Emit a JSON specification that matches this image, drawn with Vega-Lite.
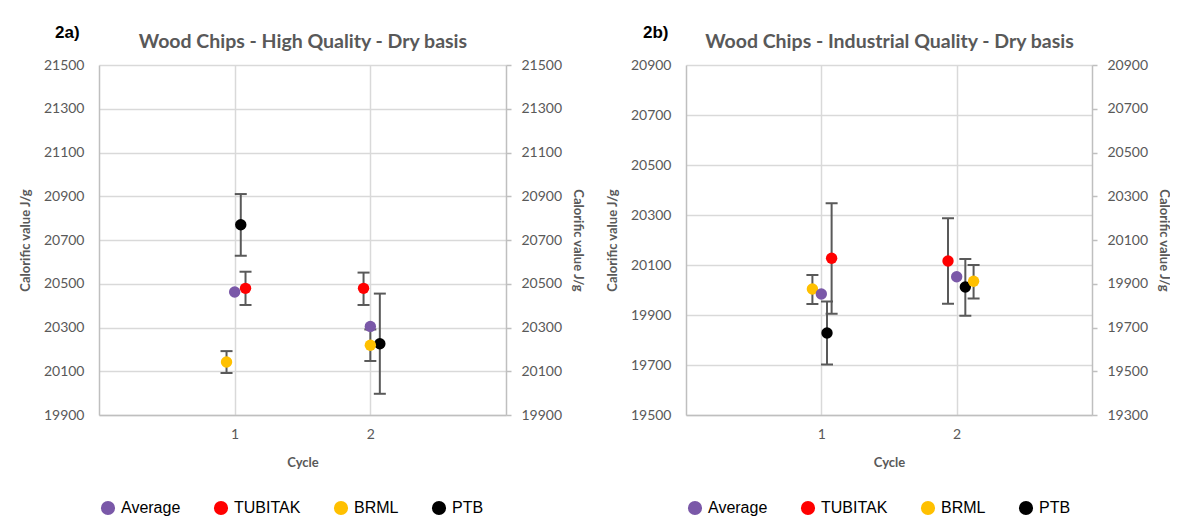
{
  "$schema": "https://vega.github.io/schema/vega-lite/v6.json",
  "background": "white",
  "padding": {"left": 19, "top": 24, "right": 0, "bottom": 0},
  "spacing": 22,
  "datasets": {
    "a": [
      {"series": "PTB", "x": 1.045, "value": 20770, "lo": 20628, "hi": 20910},
      {"series": "PTB", "x": 2.07, "value": 20226, "lo": 19997, "hi": 20455},
      {"series": "BRML", "x": 0.94, "value": 20142, "lo": 20092, "hi": 20192},
      {"series": "BRML", "x": 2.0, "value": 20219, "lo": 20147, "hi": 20291},
      {"series": "Average", "x": 1.0, "value": 20462, "lo": null, "hi": null},
      {"series": "Average", "x": 2.0, "value": 20305, "lo": null, "hi": null},
      {"series": "TUBITAK", "x": 1.08, "value": 20479, "lo": 20403, "hi": 20555},
      {"series": "TUBITAK", "x": 1.95, "value": 20479, "lo": 20403, "hi": 20551}
    ],
    "b": [
      {"series": "PTB", "x": 1.042, "value": 19828, "lo": 19702, "hi": 19954},
      {"series": "PTB", "x": 2.064, "value": 20012, "lo": 19897, "hi": 20124},
      {"series": "BRML", "x": 0.934, "value": 20004, "lo": 19944, "hi": 20060},
      {"series": "BRML", "x": 2.125, "value": 20035, "lo": 19966, "hi": 20100},
      {"series": "Average", "x": 1.0, "value": 19984, "lo": null, "hi": null},
      {"series": "Average", "x": 2.0, "value": 20053, "lo": null, "hi": null},
      {"series": "TUBITAK", "x": 1.076, "value": 20127, "lo": 19905, "hi": 20347},
      {"series": "TUBITAK", "x": 1.936, "value": 20116, "lo": 19945, "hi": 20287}
    ]
  },
  "config": {
    "view": {"stroke": null},
    "axis": {
      "labelFont": "Lato", "labelFontSize": 14, "labelColor": "#595959",
      "titleFont": "Lato", "titleFontSize": 13, "titleColor": "#595959", "titleFontWeight": "bold",
      "gridColor": "#D9D9D9", "gridWidth": 1.5,
      "domainColor": "#BFBFBF", "domainWidth": 1.5,
      "ticks": false, "tickSize": 0
    },
    "legend": {
      "direction": "horizontal", "title": null,
      "symbolType": "circle", "symbolSize": 200, "symbolStrokeWidth": 0, "symbolOpacity": 1,
      "labelFont": "Liberation Sans", "labelFontSize": 16, "labelColor": "#000000",
      "labelOffset": 5, "columnPadding": 32, "padding": 0
    },
    "title": {"font": "Liberation Sans", "fontSize": 17, "fontWeight": "bold", "color": "#000000", "anchor": "start", "frame": "group"}
  },
  "resolve": {
    "scale": {"color": "independent", "x": "independent", "y": "independent"},
    "legend": {"color": "independent"}
  },
  "hconcat": [
    {
      "width": 407, "height": 350,
      "title": {"text": "2a)", "dx": -44, "offset": -11},
      "data": {"name": "a"},
      "layer": [
        {
          "mark": {"type": "rule", "color": "#595959", "strokeWidth": 2},
          "encoding": {
            "x": {"field": "x", "type": "quantitative", "scale": {"domain": [0, 3], "nice": false, "zero": false}, "axis": null},
            "y": {"field": "lo", "type": "quantitative", "scale": {"domain": [19900, 21500], "nice": false, "zero": false}, "axis": null},
            "y2": {"field": "hi"}
          }
        },
        {
          "mark": {"type": "tick", "orient": "horizontal", "color": "#595959", "thickness": 2, "size": 12, "opacity": 1},
          "encoding": {
            "x": {"field": "x", "type": "quantitative", "scale": {"domain": [0, 3], "nice": false, "zero": false}, "axis": null},
            "y": {"field": "lo", "type": "quantitative", "scale": {"domain": [19900, 21500], "nice": false, "zero": false}, "axis": null}
          }
        },
        {
          "mark": {"type": "tick", "orient": "horizontal", "color": "#595959", "thickness": 2, "size": 12, "opacity": 1},
          "encoding": {
            "x": {"field": "x", "type": "quantitative", "scale": {"domain": [0, 3], "nice": false, "zero": false}, "axis": null},
            "y": {"field": "hi", "type": "quantitative", "scale": {"domain": [19900, 21500], "nice": false, "zero": false}, "axis": null}
          }
        },
        {
          "mark": {"type": "circle", "size": 130, "opacity": 1},
          "encoding": {
            "x": {"field": "x", "type": "quantitative", "scale": {"domain": [0, 3], "nice": false, "zero": false},
              "axis": {"orient": "bottom", "values": [1, 2], "grid": true, "title": "Cycle", "labelPadding": 12, "titlePadding": 15, "format": "d"}},
            "y": {"field": "value", "type": "quantitative", "scale": {"domain": [19900, 21500], "nice": false, "zero": false},
              "axis": {"orient": "left", "values": [19900, 20100, 20300, 20500, 20700, 20900, 21100, 21300, 21500], "grid": true, "format": "d",
                "title": "Calorific value J/g", "labelPadding": 15, "titlePadding": 11}},
            "color": {"field": "series", "type": "nominal",
              "scale": {"domain": ["Average", "TUBITAK", "BRML", "PTB"], "range": ["#7A58A8", "#FF0000", "#FFC000", "#000000"]},
              "legend": {"orient": "none", "legendX": 1, "legendY": 435}}
          }
        },
        {
          "mark": {"type": "point", "opacity": 0},
          "encoding": {
            "x": {"field": "x", "type": "quantitative", "scale": {"domain": [0, 3], "nice": false, "zero": false},
              "axis": {"orient": "top", "labels": false, "domain": false, "grid": false, "title": "Wood Chips - High Quality - Dry basis",
                "titleFontSize": 19.5, "titlePadding": 14}},
            "y": {"field": "value", "type": "quantitative", "scale": {"domain": [19900, 21500], "nice": false, "zero": false},
              "axis": {"orient": "right", "values": [19900, 20100, 20300, 20500, 20700, 20900, 21100, 21300, 21500], "grid": false, "format": "d",
                "ticks": true, "tickSize": 5, "tickColor": "#BFBFBF", "tickWidth": 1.5,
                "title": "Calorific value J/g", "labelPadding": 10, "titlePadding": 9}}
          }
        }
      ],
      "resolve": {"scale": {"x": "independent", "y": "independent"}}
    },
    {
      "width": 406, "height": 350,
      "title": {"text": "2b)", "dx": -43, "offset": -11},
      "data": {"name": "b"},
      "layer": [
        {
          "mark": {"type": "rule", "color": "#595959", "strokeWidth": 2},
          "encoding": {
            "x": {"field": "x", "type": "quantitative", "scale": {"domain": [0, 3], "nice": false, "zero": false}, "axis": null},
            "y": {"field": "lo", "type": "quantitative", "scale": {"domain": [19500, 20900], "nice": false, "zero": false}, "axis": null},
            "y2": {"field": "hi"}
          }
        },
        {
          "mark": {"type": "tick", "orient": "horizontal", "color": "#595959", "thickness": 2, "size": 12, "opacity": 1},
          "encoding": {
            "x": {"field": "x", "type": "quantitative", "scale": {"domain": [0, 3], "nice": false, "zero": false}, "axis": null},
            "y": {"field": "lo", "type": "quantitative", "scale": {"domain": [19500, 20900], "nice": false, "zero": false}, "axis": null}
          }
        },
        {
          "mark": {"type": "tick", "orient": "horizontal", "color": "#595959", "thickness": 2, "size": 12, "opacity": 1},
          "encoding": {
            "x": {"field": "x", "type": "quantitative", "scale": {"domain": [0, 3], "nice": false, "zero": false}, "axis": null},
            "y": {"field": "hi", "type": "quantitative", "scale": {"domain": [19500, 20900], "nice": false, "zero": false}, "axis": null}
          }
        },
        {
          "mark": {"type": "circle", "size": 130, "opacity": 1},
          "encoding": {
            "x": {"field": "x", "type": "quantitative", "scale": {"domain": [0, 3], "nice": false, "zero": false},
              "axis": {"orient": "bottom", "values": [1, 2], "grid": true, "title": "Cycle", "labelPadding": 12, "titlePadding": 15, "format": "d"}},
            "y": {"field": "value", "type": "quantitative", "scale": {"domain": [19500, 20900], "nice": false, "zero": false},
              "axis": {"orient": "left", "values": [19500, 19700, 19900, 20100, 20300, 20500, 20700, 20900], "grid": true, "format": "d",
                "title": "Calorific value J/g", "labelPadding": 15, "titlePadding": 11}},
            "color": {"field": "series", "type": "nominal",
              "scale": {"domain": ["Average", "TUBITAK", "BRML", "PTB"], "range": ["#7A58A8", "#FF0000", "#FFC000", "#000000"]},
              "legend": {"orient": "none", "legendX": 1, "legendY": 435}}
          }
        },
        {
          "mark": {"type": "point", "opacity": 0},
          "encoding": {
            "x": {"field": "x", "type": "quantitative", "scale": {"domain": [0, 3], "nice": false, "zero": false},
              "axis": {"orient": "top", "labels": false, "domain": false, "grid": false, "title": "Wood Chips - Industrial Quality - Dry basis",
                "titleFontSize": 19.5, "titlePadding": 14}},
            "y": {"field": "value", "type": "quantitative", "scale": {"domain": [19300, 20900], "nice": false, "zero": false},
              "axis": {"orient": "right", "values": [19300, 19500, 19700, 19900, 20100, 20300, 20500, 20700, 20900], "grid": false, "format": "d",
                "ticks": true, "tickSize": 5, "tickColor": "#BFBFBF", "tickWidth": 1.5,
                "title": "Calorific value J/g", "labelPadding": 10, "titlePadding": 9}}
          }
        }
      ],
      "resolve": {"scale": {"x": "independent", "y": "independent"}}
    }
  ]
}
